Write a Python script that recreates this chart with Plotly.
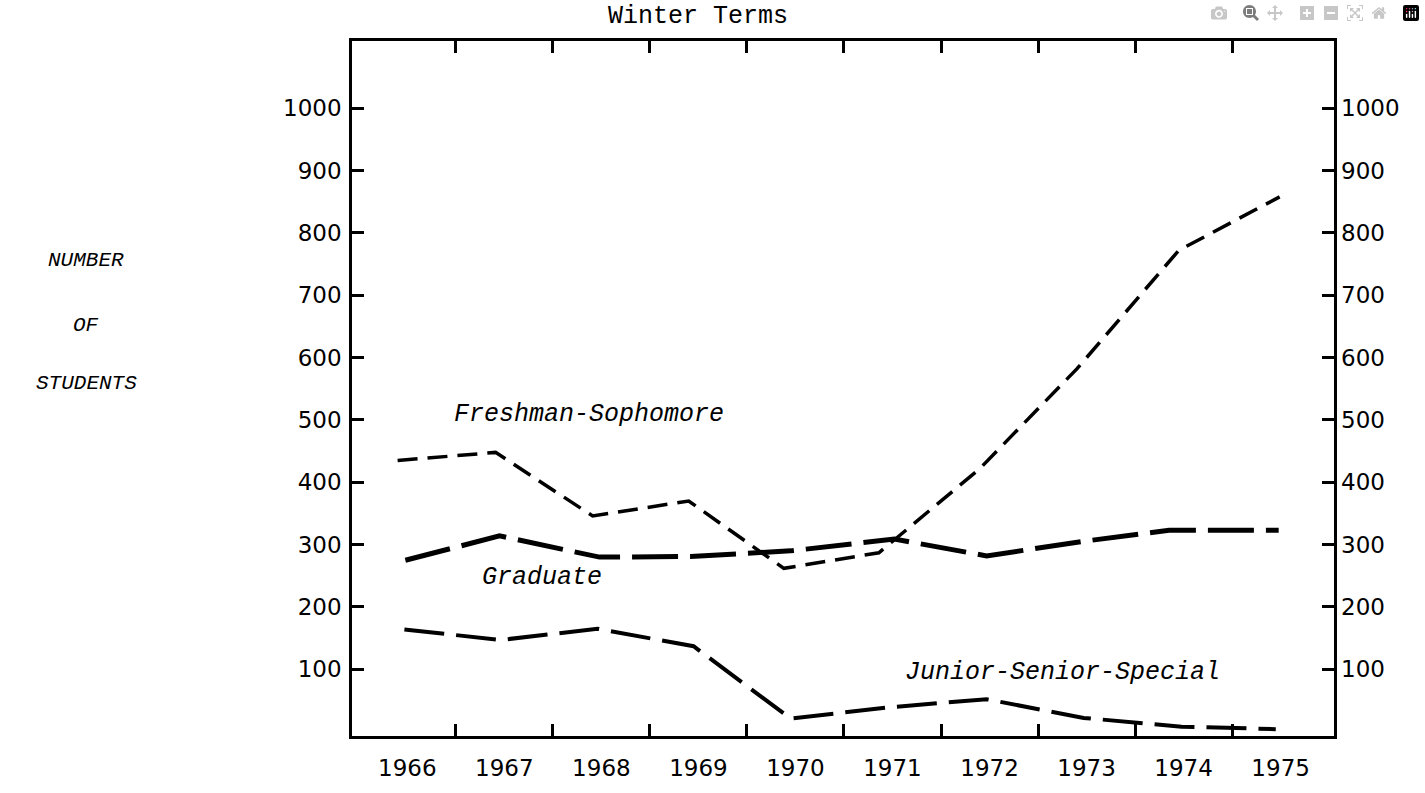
import plotly.graph_objects as go

# ---------------- data ----------------
years = [1966, 1967, 1968, 1969, 1970, 1971, 1972, 1973, 1974, 1975]
year_labels = [str(y) for y in years]
half_year_ticks = [1966.5, 1967.5, 1968.5, 1969.5, 1970.5, 1971.5, 1972.5, 1973.5, 1974.5]
y_ticks = [100, 200, 300, 400, 500, 600, 700, 800, 900, 1000]
y_tick_labels = [str(v) for v in y_ticks]

fresh_x = [1965.90, 1966.91, 1967.91, 1968.90, 1969.88, 1970.86, 1971.90, 1972.90, 1973.95, 1974.99]
fresh_y = [435, 448, 346, 370, 262, 287, 422, 582, 772, 858]

grad_x = [1965.98, 1966.95, 1967.98, 1968.92, 1969.95, 1971.02, 1971.97, 1973.00, 1973.85, 1974.98]
grad_y = [275, 314, 280, 281, 290, 309, 282, 306, 323, 323]

jss_x = [1965.97, 1966.96, 1967.96, 1968.95, 1969.95, 1970.96, 1971.97, 1972.97, 1973.98, 1974.95]
jss_y = [164, 147, 165, 137, 21, 39, 52, 22, 8, 4]

x_range = [1965.43, 1975.55]
y_range = [-7, 1108]

# ---------------- layout geometry ----------------
W, H = 1425, 793
L, R, T, B = 352, 1334, 41, 752   # plot area in pixels


def px(x, y):
    return (x - L) / (R - L), (B - y) / (B - T)


MONO = "Liberation Mono"
SANS = "DejaVu Sans"

fig = go.Figure()
fig.add_trace(go.Scatter(x=fresh_x, y=fresh_y, mode="lines", showlegend=False, hoverinfo="skip",
                         line=dict(color="black", width=3.5, dash="20px,10px")))
fig.add_trace(go.Scatter(x=grad_x, y=grad_y, mode="lines", showlegend=False, hoverinfo="skip",
                         line=dict(color="black", width=5, dash="46px,12px")))
fig.add_trace(go.Scatter(x=jss_x, y=jss_y, mode="lines", showlegend=False, hoverinfo="skip",
                         line=dict(color="black", width=4, dash="40px,12px")))
# helper trace so the overlay axes (tick marks / right labels) exist
fig.add_trace(go.Scatter(x=[None], y=[None], xaxis="x2", yaxis="y2", mode="lines",
                         showlegend=False, hoverinfo="skip"))

annos = []


def add_text(text, x, y, size, family=MONO, italic=False):
    ax, ay = px(x, y)
    t = f"<i>{text}</i>" if italic else text
    annos.append(dict(text=t, x=ax, y=ay, xref="paper", yref="paper", showarrow=False,
                      xanchor="center", yanchor="middle",
                      font=dict(family=family, size=size, color="black")))


add_text("Winter Terms", 698, 16, 25)
add_text("Freshman-Sophomore", 589, 423, 25, italic=True)
add_text("Graduate", 542, 590, 25, italic=True)
add_text("Junior-Senior-Special", 1062, 687, 25, italic=True)
add_text("NUMBER", 86, 266, 21, italic=True)
add_text("OF", 86, 332, 21, italic=True)
add_text("STUDENTS", 86, 391, 21, italic=True)

axis_common = dict(showgrid=False, zeroline=False, linecolor="black", linewidth=2.5,
                   tickcolor="black")

fig.update_layout(
    width=W, height=H, autosize=False,
    margin=dict(l=L, r=W - R, t=T, b=H - B, pad=0),
    paper_bgcolor="white", plot_bgcolor="white",
    xaxis=dict(range=x_range, tickmode="array", tickvals=years, ticktext=year_labels,
               ticks="", showline=True, mirror=True, ticklabelstandoff=10,
               tickfont=dict(family=SANS, size=23, color="black"), **axis_common),
    xaxis2=dict(range=x_range, overlaying="x", side="bottom", anchor="y",
                tickmode="array", tickvals=half_year_ticks, ticks="inside", ticklen=12,
                tickwidth=2.5, mirror="ticks", showline=False, showticklabels=False,
                **axis_common),
    yaxis=dict(range=y_range, tickmode="array", tickvals=y_ticks, ticktext=y_tick_labels,
               ticks="inside", ticklen=12, tickwidth=2.5, showline=True, mirror=True,
               ticklabelstandoff=3,
               tickfont=dict(family=SANS, size=23, color="black"), **axis_common),
    yaxis2=dict(range=y_range, overlaying="y", side="right", anchor="x",
                tickmode="array", tickvals=y_ticks, ticktext=y_tick_labels,
                ticks="inside", ticklen=12, tickwidth=2.5, showline=False,
                ticklabelstandoff=6,
                tickfont=dict(family=SANS, size=23, color="black"), **axis_common),
    annotations=annos,
)

fig.write_html("out.html", post_script="document.body.style.margin='0';")
